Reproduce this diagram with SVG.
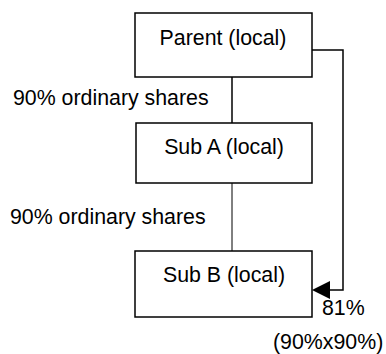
<svg xmlns="http://www.w3.org/2000/svg" width="386" height="354" viewBox="0 0 386 354">
  <style>
    .box { fill: #ffffff; stroke: #000000; stroke-width: 1.5; }
    .line { fill: none; stroke: #000000; stroke-width: 1.5; }
    .thin { fill: none; stroke: #000000; stroke-width: 1; }
    text { font-family: "Liberation Sans", Arial, sans-serif; font-size: 21.33px; fill: #000000; }
    .c { text-anchor: middle; }
  </style>
  <rect width="386" height="354" fill="#ffffff"/>

  <g id="connectors">
    <line class="line" x1="232" y1="77" x2="232" y2="123"/>
    <line class="thin" x1="232" y1="183" x2="232" y2="251"/>
    <polyline class="line" points="312,50 343,50 343,290 329,290"/>
    <polygon points="312,290 330,281 330,299" fill="#000000"/>
    <text x="13" y="105">90% ordinary shares</text>
    <text x="10" y="224">90% ordinary shares</text>
    <text x="322" y="315">81%</text>
    <text x="273" y="349">(90%x90%)</text>
  </g>

  <g id="parent">
    <rect class="box" x="135" y="13" width="177" height="64"/>
    <text class="c" x="223" y="45">Parent (local)</text>
  </g>

  <g id="sub-a">
    <rect class="box" x="136" y="123" width="176" height="60"/>
    <text class="c" x="224" y="154">Sub A (local)</text>
  </g>

  <g id="sub-b">
    <rect class="box" x="135" y="251" width="177" height="66"/>
    <text class="c" x="224" y="282">Sub B (local)</text>
  </g>
</svg>
